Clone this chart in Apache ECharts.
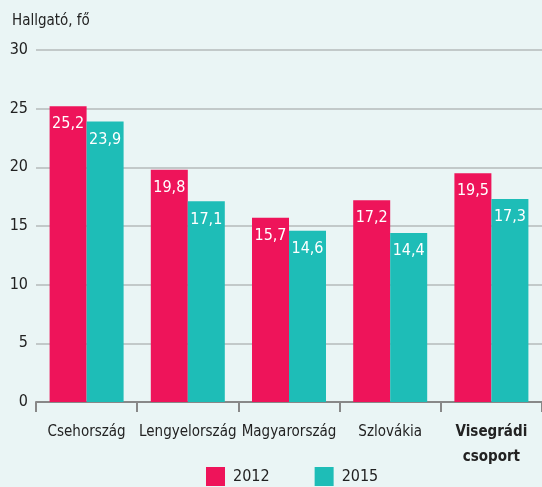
<!DOCTYPE html>
<html>
<head>
<meta charset="utf-8">
<script src="https://cdn.jsdelivr.net/npm/echarts@6/dist/echarts.min.js"></script>
<style>
  html, body { margin: 0; padding: 0; background: #eaf5f5; }
  #main { width: 542px; height: 487px; }
</style>
</head>
<body>
<div id="main"></div>
<script>
  // adatok
  var categories = ['Csehország', 'Lengyelország', 'Magyarország', 'Szlovákia', 'Visegrádi\ncsoport'];
  var values2012 = [25.2, 19.8, 15.7, 17.2, 19.5];
  var values2015 = [23.9, 17.1, 14.6, 14.4, 17.3];
  var seriesNames = ['2012', '2015'];
  var yTicks = [0, 5, 10, 15, 20, 25, 30];

  var font = '"Liberation Sans Narrow", "DejaVu Sans Condensed", sans-serif';
  var red = '#ee145a';
  var teal = '#1ebdb7';

  var myChart = echarts.init(document.getElementById('main'));

  var labelOpt = {
    show: true,
    position: 'insideTop',
    distance: 10,
    color: '#ffffff',
    fontFamily: font,
    fontSize: 16,
    formatter: function (p) { return String(p.value).replace('.', ','); }
  };

  var option = {
    backgroundColor: '#eaf5f5',
    title: {
      text: 'Hallgató, fő',
      left: 7,
      top: 9,
      textStyle: { fontFamily: font, fontSize: 15, fontWeight: 'normal', color: '#222' }
    },
    legend: {
      data: seriesNames,
      bottom: -4,
      left: 201,
      itemWidth: 19,
      itemHeight: 19,
      itemGap: 45,
      icon: 'rect',
      textStyle: { fontFamily: font, fontSize: 16, color: '#222', padding: [0, 0, 0, 3] }
    },
    grid: { left: 36, top: 50, width: 512, height: 352 },
    xAxis: {
      type: 'category',
      data: categories,
      axisLine: { lineStyle: { color: '#888', width: 2 } },
      axisTick: { show: true, interval: 0, length: 10, lineStyle: { color: '#888', width: 2 } },
      axisLabel: {
        interval: 0,
        hideOverlap: false,
        margin: 18,
        fontFamily: font,
        fontSize: 15,
        color: '#222',
        lineHeight: 25,
        formatter: function (v, i) {
          return i === categories.length - 1 ? '{b|' + v.replace('\n', '}\n{b|') + '}' : v;
        },
        rich: { b: { fontFamily: font, fontSize: 15, fontWeight: 'bold', color: '#222', lineHeight: 25 } }
      }
    },
    yAxis: {
      type: 'value',
      min: yTicks[0],
      max: yTicks[yTicks.length - 1],
      interval: 5,
      axisLine: { show: false },
      axisTick: { show: false },
      axisLabel: { margin: 8, fontFamily: font, fontSize: 16, color: '#222' },
      splitLine: { lineStyle: { color: '#b5baba', width: 1.5 } }
    },
    series: [
      {
        name: seriesNames[0],
        type: 'bar',
        data: values2012,
        barWidth: 37,
        barGap: 0,
        itemStyle: { color: red },
        label: labelOpt
      },
      {
        name: seriesNames[1],
        type: 'bar',
        data: values2015,
        barWidth: 37,
        itemStyle: { color: teal },
        label: labelOpt
      }
    ]
  };

  myChart.setOption(option);
</script>
</body>
</html>
